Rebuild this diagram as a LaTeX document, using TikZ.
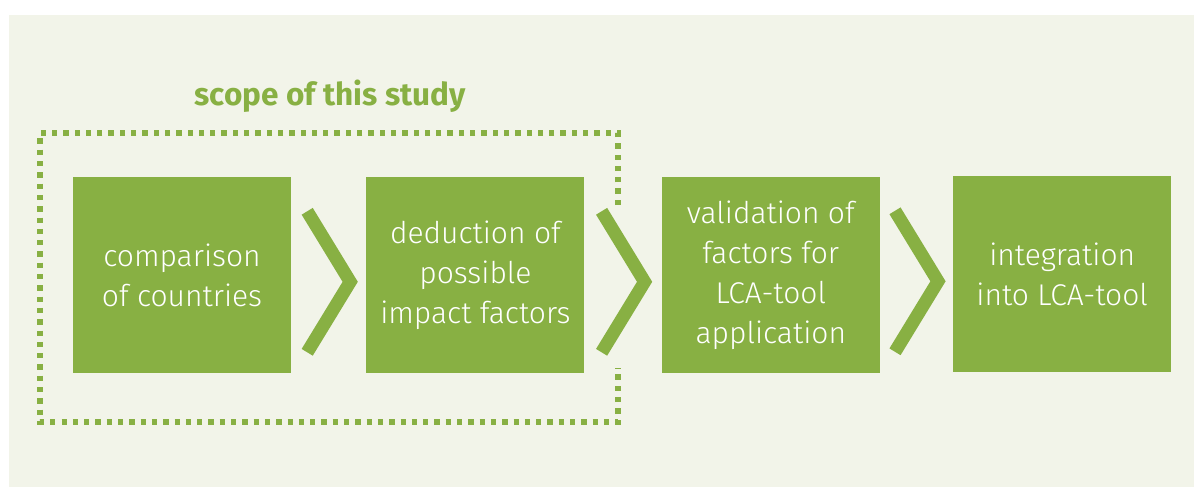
\documentclass[tikz,border=0pt]{standalone}
\usepackage{fontspec}
\setmainfont{Fira Sans}[UprightFont={* Light},BoldFont={* Bold}]
\usetikzlibrary{positioning,calc}
\definecolor{leaf}{RGB}{136,176,67}
\definecolor{paper}{RGB}{242,244,233}
\begin{document}
\begin{tikzpicture}[x=1pt,y=-1pt,
            stepbox/.style={fill=leaf,draw=none,minimum width=218pt,minimum height=196pt,
              inner sep=0pt,align=center,text=white,font=\fontsize{30}{40}\selectfont},
            chev/.style={draw=leaf,line width=13pt,line join=miter},
            scopeline/.style={draw=leaf,line width=5.5pt,dash pattern=on 5.3pt off 6pt}]
             \useasboundingbox (0,0) rectangle (1194,487);
             \fill[paper] (9,15) rectangle (1194,487);
             % the four steps
             \node[stepbox] (cmp) at (182,275.3) {comparison\\of countries};
             \node[stepbox,right=75pt of cmp] (ded) {deduction of\\possible\\impact factors};
             \node[stepbox,right=77pt of ded] (val) {validation of\\factors for\\LCA-tool\\application};
             \node[stepbox,right=73pt of val,yshift=1pt] (intg) {integration\\into LCA-tool};
             % chevrons between them
             \foreach \a/\b in {cmp/ded,ded/val,val/intg}
               \draw[chev] ($(\a.east)!0.5!(\b.west)+(-21.5,-64)$) -- ++(43,70.5) -- ++(-43,70.5);
             % scope frame
             \coordinate (ftop) at (618,205);
             \coordinate (fbot) at (618,368);
             \draw[scopeline] (ftop) -- (618,133) -- (40,133) -- (40,422) -- (618,422) -- (fbot);
             \node[text=leaf,font=\fontsize{31.5}{36}\bfseries\selectfont,anchor=base] (scope) at (330,106) {scope of this study};
        \end{tikzpicture}
\end{document}
